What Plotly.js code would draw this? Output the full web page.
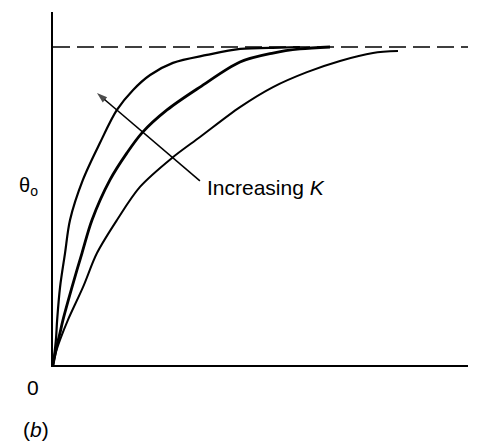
<!DOCTYPE html>
<html>
<head>
<meta charset="utf-8">
<script src="https://cdn.plot.ly/plotly-3.0.1.min.js"></script>
<style>html,body{margin:0;padding:0;background:#fff;}#chart{width:479px;height:443px;}</style>
</head>
<body>
<div id="chart"></div>
<script>
// Curve 1 (largest K, fastest rise)
var curve1X = [0, 0.7, 1.0, 1.7, 2.9, 4.1, 7.2, 11.3, 15.4, 19.3, 23.4, 28.9, 37.1, 45.1, 54.7, 59.5];
var curve1Y = [0, 0.079, 0.142, 0.245, 0.352, 0.456, 0.582, 0.698, 0.802, 0.865, 0.912, 0.950, 0.975, 0.994, 0.998, 1.0];
// Curve 2
var curve2X = [0, 0.96, 1.69, 2.41, 4.58, 6.99, 9.40, 13.73, 17.83, 21.45, 27.47, 35.42, 45.06, 53.01, 59.52, 66.75];
var curve2Y = [0, 0.063, 0.101, 0.142, 0.245, 0.352, 0.456, 0.582, 0.667, 0.730, 0.802, 0.874, 0.953, 0.981, 0.994, 1.0];
// Curve 3 (smallest K, slowest rise)
var curve3X = [0, 0.72, 1.69, 3.61, 7.23, 10.60, 15.42, 20.96, 28.67, 35.42, 45.06, 53.01, 61.2, 69.16, 77.11, 83.13];
var curve3Y = [0, 0.041, 0.079, 0.142, 0.245, 0.352, 0.456, 0.560, 0.651, 0.717, 0.811, 0.874, 0.921, 0.956, 0.981, 0.987];
// Final value asymptote
var asymX = [0, 100];
var asymY = [1, 1];
// Arrow "Increasing K": tail then tip
var arrowX = [35.4, 10.6];
var arrowY = [0.579, 0.855];

var fontFam = 'Liberation Sans, Arial, sans-serif';

var traces = [
  {x: asymX, y: asymY, mode: 'lines', line: {color: '#000', width: 1.6, dash: '17px,7px'}, hoverinfo: 'skip'},
  {x: curve1X, y: curve1Y, mode: 'lines', line: {color: '#000', width: 2.2, shape: 'spline', smoothing: 0.9}},
  {x: curve2X, y: curve2Y, mode: 'lines', line: {color: '#000', width: 2.8, shape: 'spline', smoothing: 0.9}},
  {x: curve3X, y: curve3Y, mode: 'lines', line: {color: '#000', width: 2.0, shape: 'spline', smoothing: 0.9}},
  {x: arrowX, y: arrowY, mode: 'lines+markers', line: {color: '#000', width: 1.6},
   marker: {symbol: 'arrow', size: [0, 11], angleref: 'previous', color: '#000', line: {width: 0}}, cliponaxis: false}
];

var layout = {
  width: 479, height: 443,
  margin: {l: 53, r: 11, t: 12, b: 78},
  paper_bgcolor: '#fff', plot_bgcolor: '#fff',
  showlegend: false,
  font: {family: fontFam, color: '#000'},
  xaxis: {range: [0, 100], showline: true, linecolor: '#000', linewidth: 2, showgrid: false, zeroline: false, showticklabels: false, ticks: '', fixedrange: true},
  yaxis: {range: [0, 1.11], showline: true, linecolor: '#000', linewidth: 2, showgrid: false, zeroline: false, showticklabels: false, ticks: '', fixedrange: true},
  annotations: [
    {x: 36.6, y: 0.557, xref: 'x', yref: 'y', text: 'Increasing <i>K</i>', showarrow: false, xanchor: 'left', yanchor: 'middle',
     font: {family: fontFam, size: 21, color: '#000'}},
    {x: -0.060, y: 0.507, xref: 'paper', yref: 'paper', text: 'θ<sub>o</sub>', showarrow: false, xanchor: 'center', yanchor: 'middle',
     font: {family: fontFam, size: 20, color: '#000'}},
    {x: -0.048, y: -0.065, xref: 'paper', yref: 'paper', text: '0', showarrow: false, xanchor: 'center', yanchor: 'middle',
     font: {family: fontFam, size: 21, color: '#000'}},
    {x: -0.041, y: -0.184, xref: 'paper', yref: 'paper', text: '(<i>b</i>)', showarrow: false, xanchor: 'center', yanchor: 'middle',
     font: {family: fontFam, size: 21, color: '#000'}}
  ]
};

Plotly.newPlot('chart', traces, layout, {displayModeBar: false, staticPlot: true});
</script>
</body>
</html>
